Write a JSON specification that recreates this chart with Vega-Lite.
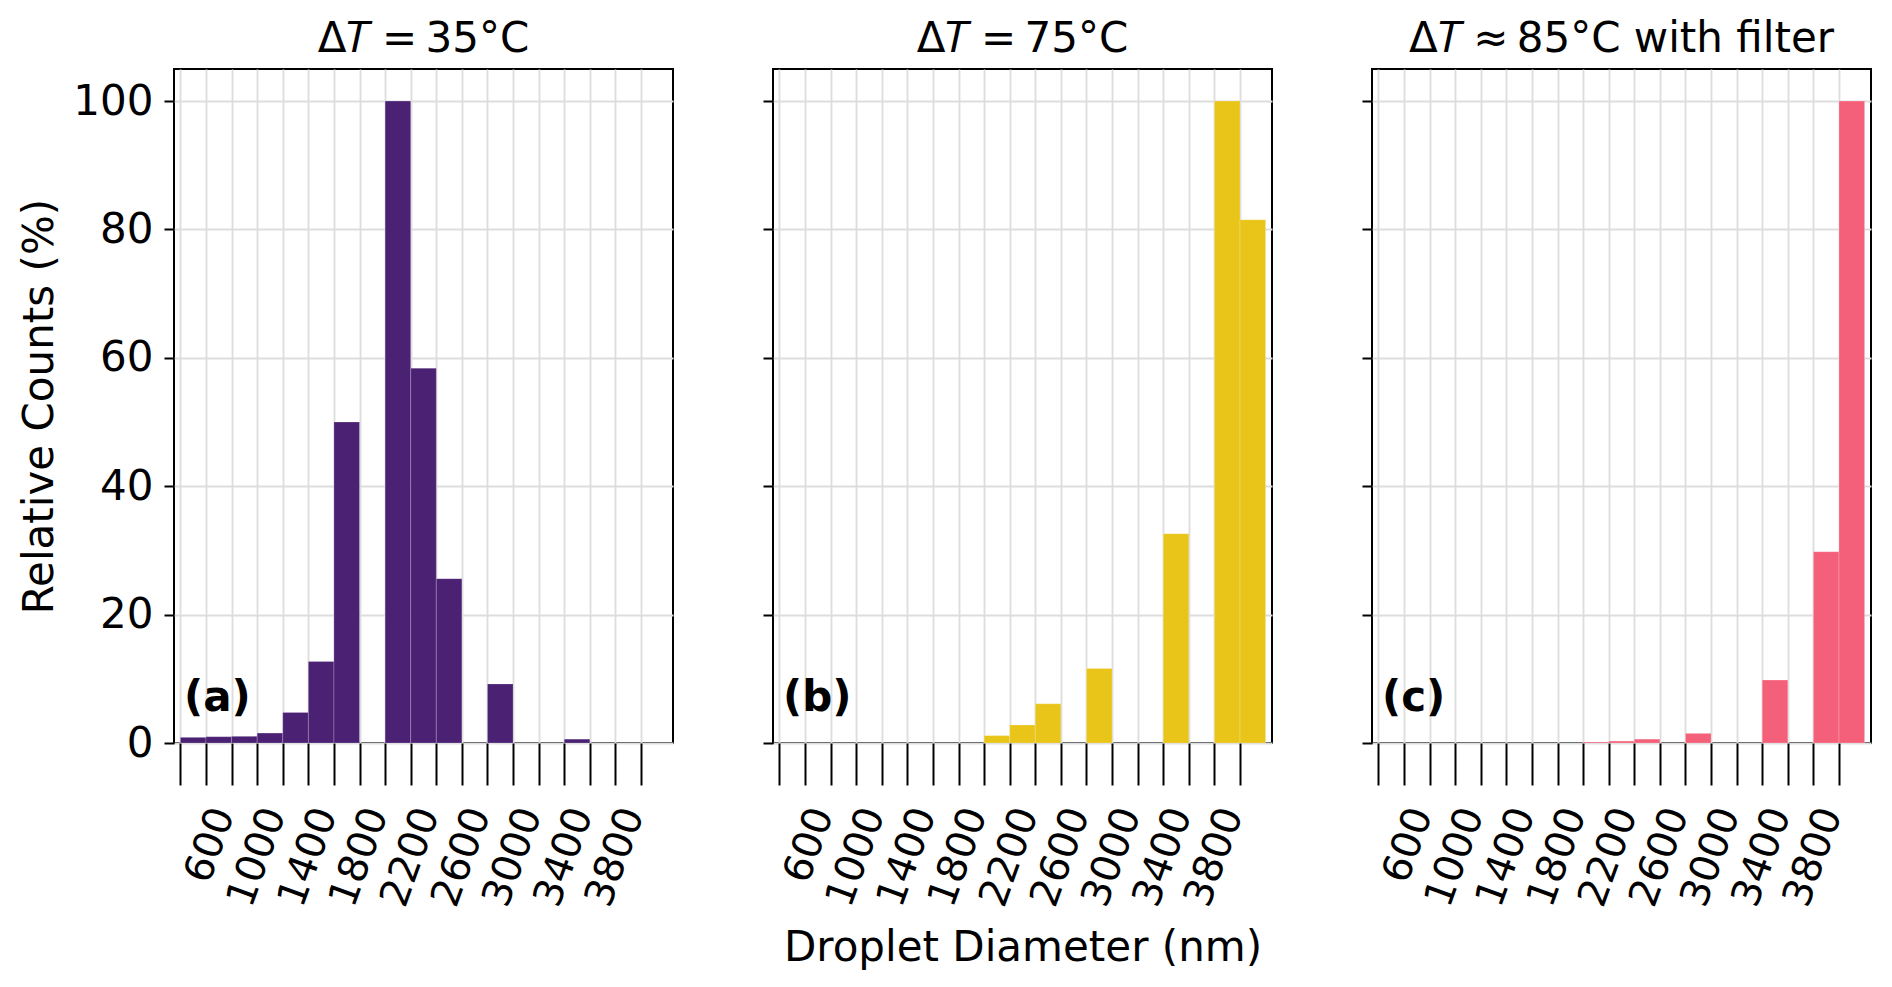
{
  "$schema": "https://vega.github.io/schema/vega-lite/v6.json",
  "background": "white",
  "padding": {"left": 17, "top": 17, "right": 5, "bottom": 5},
  "datasets": {
    "bins": [
      {"panel": "a", "start": 400, "end": 600, "value": 0.88},
      {"panel": "a", "start": 600, "end": 800, "value": 0.98},
      {"panel": "a", "start": 800, "end": 1000, "value": 1.04},
      {"panel": "a", "start": 1000, "end": 1200, "value": 1.55},
      {"panel": "a", "start": 1200, "end": 1400, "value": 4.77},
      {"panel": "a", "start": 1400, "end": 1600, "value": 12.7},
      {"panel": "a", "start": 1600, "end": 1800, "value": 50.0},
      {"panel": "a", "start": 1800, "end": 2000, "value": 0},
      {"panel": "a", "start": 2000, "end": 2200, "value": 100},
      {"panel": "a", "start": 2200, "end": 2400, "value": 58.4},
      {"panel": "a", "start": 2400, "end": 2600, "value": 25.6},
      {"panel": "a", "start": 2600, "end": 2800, "value": 0},
      {"panel": "a", "start": 2800, "end": 3000, "value": 9.2},
      {"panel": "a", "start": 3000, "end": 3200, "value": 0},
      {"panel": "a", "start": 3200, "end": 3400, "value": 0},
      {"panel": "a", "start": 3400, "end": 3600, "value": 0.6},
      {"panel": "a", "start": 3600, "end": 3800, "value": 0},
      {"panel": "a", "start": 3800, "end": 4000, "value": 0},
      {"panel": "a", "start": 4000, "end": 4200, "value": 0},
      {"panel": "b", "start": 400, "end": 600, "value": 0},
      {"panel": "b", "start": 600, "end": 800, "value": 0},
      {"panel": "b", "start": 800, "end": 1000, "value": 0},
      {"panel": "b", "start": 1000, "end": 1200, "value": 0},
      {"panel": "b", "start": 1200, "end": 1400, "value": 0},
      {"panel": "b", "start": 1400, "end": 1600, "value": 0},
      {"panel": "b", "start": 1600, "end": 1800, "value": 0},
      {"panel": "b", "start": 1800, "end": 2000, "value": 0},
      {"panel": "b", "start": 2000, "end": 2200, "value": 1.15},
      {"panel": "b", "start": 2200, "end": 2400, "value": 2.8},
      {"panel": "b", "start": 2400, "end": 2600, "value": 6.1},
      {"panel": "b", "start": 2600, "end": 2800, "value": 0},
      {"panel": "b", "start": 2800, "end": 3000, "value": 11.6},
      {"panel": "b", "start": 3000, "end": 3200, "value": 0},
      {"panel": "b", "start": 3200, "end": 3400, "value": 0},
      {"panel": "b", "start": 3400, "end": 3600, "value": 32.6},
      {"panel": "b", "start": 3600, "end": 3800, "value": 0},
      {"panel": "b", "start": 3800, "end": 4000, "value": 100},
      {"panel": "b", "start": 4000, "end": 4200, "value": 81.5},
      {"panel": "c", "start": 400, "end": 600, "value": 0},
      {"panel": "c", "start": 600, "end": 800, "value": 0},
      {"panel": "c", "start": 800, "end": 1000, "value": 0},
      {"panel": "c", "start": 1000, "end": 1200, "value": 0},
      {"panel": "c", "start": 1200, "end": 1400, "value": 0},
      {"panel": "c", "start": 1400, "end": 1600, "value": 0},
      {"panel": "c", "start": 1600, "end": 1800, "value": 0},
      {"panel": "c", "start": 1800, "end": 2000, "value": 0},
      {"panel": "c", "start": 2000, "end": 2200, "value": 0.15},
      {"panel": "c", "start": 2200, "end": 2400, "value": 0.3},
      {"panel": "c", "start": 2400, "end": 2600, "value": 0.6},
      {"panel": "c", "start": 2600, "end": 2800, "value": 0},
      {"panel": "c", "start": 2800, "end": 3000, "value": 1.5},
      {"panel": "c", "start": 3000, "end": 3200, "value": 0},
      {"panel": "c", "start": 3200, "end": 3400, "value": 0},
      {"panel": "c", "start": 3400, "end": 3600, "value": 9.8},
      {"panel": "c", "start": 3600, "end": 3800, "value": 0},
      {"panel": "c", "start": 3800, "end": 4000, "value": 29.8},
      {"panel": "c", "start": 4000, "end": 4200, "value": 100}
    ]
  },
  "data": {"name": "bins"},
  "spacing": 100,
  "bounds": "flush",
  "hconcat": [
    {
      "width": 499,
      "height": 674,
      "title": {"text": "Δ𝑇\u2009=\u200935°C"},
      "layer": [
        {
          "transform": [{"filter": "datum.panel === 'a' && datum.value > 0"}],
          "mark": {"type": "bar", "color": "#4B2173", "stroke": "#ffffff", "strokeWidth": 0.8, "strokeOpacity": 0.25},
          "encoding": {
            "x": {
              "field": "start", "type": "quantitative",
              "scale": {"domain": [350, 4250], "nice": false, "zero": false},
              "axis": {
                "title": null,
                "values": [400, 600, 800, 1000, 1200, 1400, 1600, 1800, 2000, 2200, 2400, 2600, 2800, 3000, 3200, 3400, 3600, 3800, 4000],
                "tickCount": 40,
                "labelExpr": "(datum.value - 600) % 400 === 0 ? '' + datum.value : ''",
                "labelAngle": -70, "labelAlign": "right", "labelBaseline": "middle",
                "labelPadding": 24, "labelOffset": 17,
                "labelFontSize": 40, "labelOverlap": false, "labelBound": false, "labelFlush": false,
                "tickSize": 42, "tickWidth": 2, "tickColor": "black", "domain": false, "grid": true
              }
            },
            "x2": {"field": "end"},
            "y": {
              "field": "value", "type": "quantitative",
              "scale": {"domain": [0, 105], "nice": false},
              "axis": {
                "title": "Relative Counts (%)",
                "values": [0, 20, 40, 60, 80, 100],
                "tickSize": 10, "tickWidth": 2, "tickColor": "black",
                "labelFontSize": 42, "labelPadding": 11,
                "titleFontSize": 42, "titleFontWeight": "normal", "titlePadding": 11,
                "domain": false, "grid": true
              }
            },
            "y2": {"datum": 0}
          }
        },
        {
          "data": {"values": [{"label": "(a)"}]},
          "mark": {"type": "text", "align": "left", "baseline": "alphabetic", "fontSize": 42, "fontWeight": "bold", "font": "DejaVu Sans", "color": "black"},
          "encoding": {
            "x": {"datum": 428, "type": "quantitative"},
            "y": {"datum": 5, "type": "quantitative"},
            "text": {"field": "label"}
          }
        }
      ]
    },
    {
      "width": 499,
      "height": 674,
      "title": {"text": "Δ𝑇\u2009=\u200975°C"},
      "layer": [
        {
          "transform": [{"filter": "datum.panel === 'b' && datum.value > 0"}],
          "mark": {"type": "bar", "color": "#E8C518", "stroke": "#ffffff", "strokeWidth": 0.8, "strokeOpacity": 0.25},
          "encoding": {
            "x": {
              "field": "start", "type": "quantitative",
              "scale": {"domain": [350, 4250], "nice": false, "zero": false},
              "axis": {
                "title": "Droplet Diameter (nm)",
                "titleFontSize": 42, "titleFontWeight": "normal", "titlePadding": 16,
                "values": [400, 600, 800, 1000, 1200, 1400, 1600, 1800, 2000, 2200, 2400, 2600, 2800, 3000, 3200, 3400, 3600, 3800, 4000],
                "tickCount": 40,
                "labelExpr": "(datum.value - 600) % 400 === 0 ? '' + datum.value : ''",
                "labelAngle": -70, "labelAlign": "right", "labelBaseline": "middle",
                "labelPadding": 24, "labelOffset": 17,
                "labelFontSize": 40, "labelOverlap": false, "labelBound": false, "labelFlush": false,
                "tickSize": 42, "tickWidth": 2, "tickColor": "black", "domain": false, "grid": true
              }
            },
            "x2": {"field": "end"},
            "y": {
              "field": "value", "type": "quantitative",
              "scale": {"domain": [0, 105], "nice": false},
              "axis": {
                "title": null, "labels": false,
                "values": [0, 20, 40, 60, 80, 100],
                "tickSize": 10, "tickWidth": 2, "tickColor": "black",
                "domain": false, "grid": true
              }
            },
            "y2": {"datum": 0}
          }
        },
        {
          "data": {"values": [{"label": "(b)"}]},
          "mark": {"type": "text", "align": "left", "baseline": "alphabetic", "fontSize": 42, "fontWeight": "bold", "font": "DejaVu Sans", "color": "black"},
          "encoding": {
            "x": {"datum": 428, "type": "quantitative"},
            "y": {"datum": 5, "type": "quantitative"},
            "text": {"field": "label"}
          }
        }
      ]
    },
    {
      "width": 499,
      "height": 674,
      "title": {"text": "Δ𝑇\u2009≈\u200985°C with filter"},
      "layer": [
        {
          "transform": [{"filter": "datum.panel === 'c' && datum.value > 0"}],
          "mark": {"type": "bar", "color": "#F4607A", "stroke": "#ffffff", "strokeWidth": 0.8, "strokeOpacity": 0.25},
          "encoding": {
            "x": {
              "field": "start", "type": "quantitative",
              "scale": {"domain": [350, 4250], "nice": false, "zero": false},
              "axis": {
                "title": null,
                "values": [400, 600, 800, 1000, 1200, 1400, 1600, 1800, 2000, 2200, 2400, 2600, 2800, 3000, 3200, 3400, 3600, 3800, 4000],
                "tickCount": 40,
                "labelExpr": "(datum.value - 600) % 400 === 0 ? '' + datum.value : ''",
                "labelAngle": -70, "labelAlign": "right", "labelBaseline": "middle",
                "labelPadding": 24, "labelOffset": 17,
                "labelFontSize": 40, "labelOverlap": false, "labelBound": false, "labelFlush": false,
                "tickSize": 42, "tickWidth": 2, "tickColor": "black", "domain": false, "grid": true
              }
            },
            "x2": {"field": "end"},
            "y": {
              "field": "value", "type": "quantitative",
              "scale": {"domain": [0, 105], "nice": false},
              "axis": {
                "title": null, "labels": false,
                "values": [0, 20, 40, 60, 80, 100],
                "tickSize": 10, "tickWidth": 2, "tickColor": "black",
                "domain": false, "grid": true
              }
            },
            "y2": {"datum": 0}
          }
        },
        {
          "data": {"values": [{"label": "(c)"}]},
          "mark": {"type": "text", "align": "left", "baseline": "alphabetic", "fontSize": 42, "fontWeight": "bold", "font": "DejaVu Sans", "color": "black"},
          "encoding": {
            "x": {"datum": 428, "type": "quantitative"},
            "y": {"datum": 5, "type": "quantitative"},
            "text": {"field": "label"}
          }
        }
      ]
    }
  ],
  "config": {
    "font": "DejaVu Sans",
    "view": {"stroke": "black", "strokeWidth": 2},
    "axis": {
      "labelFont": "DejaVu Sans", "titleFont": "DejaVu Sans",
      "labelColor": "black", "titleColor": "black",
      "gridColor": "#dddddd", "gridWidth": 1.8
    },
    "title": {
      "font": "DejaVu Sans", "fontSize": 42, "fontWeight": "normal", "color": "black",
      "offset": 8, "baseline": "alphabetic", "anchor": "middle"
    }
  }
}
